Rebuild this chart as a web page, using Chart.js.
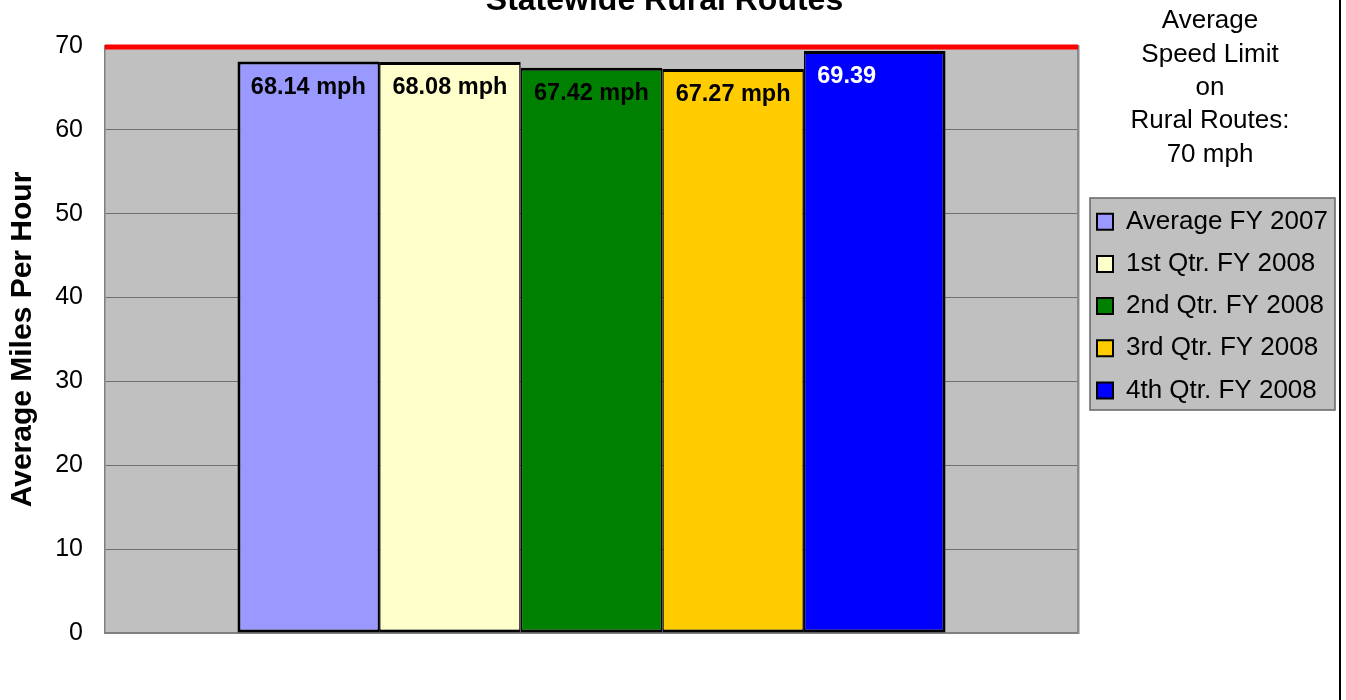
<!DOCTYPE html>
<html><head><meta charset="utf-8">
<script src="https://cdn.jsdelivr.net/npm/chart.js@4"></script>
<style>
html,body{margin:0;padding:0;background:#fff;overflow:hidden;width:1346px;height:700px;}
#wrap{position:absolute;left:0;top:-40px;width:1346px;height:740px;}
#frame{position:absolute;left:1339px;top:0;width:2px;height:700px;background:#000;}
</style></head><body>
<div id="wrap"><canvas id="c" width="1346" height="740"></canvas></div>
<div id="frame"></div>
<script>
// ---- data ----
const chartTitle = 'Statewide Rural Routes';
const categories = [''];
const seriesNames = ['Average FY 2007', '1st Qtr. FY 2008', '2nd Qtr. FY 2008', '3rd Qtr. FY 2008', '4th Qtr. FY 2008'];
const seriesValues = [68.14, 68.08, 67.42, 67.27, 69.39];
const valueSuffixes = [' mph', ' mph', ' mph', ' mph', ''];
const speedLimit = 70;
const yMin = 0, yMax = 70, yStep = 10;
const yAxisTitle = 'Average Miles Per Hour';
const noteLines = ['Average', 'Speed Limit', 'on', 'Rural Routes:', '70 mph'];

// ---- styles ----
const seriesColors = ['#9999FF', '#FFFFCC', '#008000', '#FFCC00', '#0000FF'];
const labelColors = ['#000', '#000', '#000', '#000', '#fff'];
const FONT = '"Liberation Sans", Arial, Helvetica, sans-serif';
const OFF = 40; // canvas is shifted up by this many px
Chart.defaults.font.family = FONT;
Chart.defaults.color = '#000';

const plotBg = {
  id: 'plotBg',
  afterLayout(chart) {
    const lg = chart.legend;
    const pad = lg.options.labels.padding;
    const w = lg.width;
    lg.left = 1097 - pad; lg.right = lg.left + w;
    lg.top = 221.7 + OFF - 13 - pad; lg.bottom = lg.top + 400;
  },
  beforeDraw(chart) {
    const {ctx, chartArea: a} = chart;
    ctx.save();
    ctx.fillStyle = '#c0c0c0';
    ctx.fillRect(a.left, a.top, a.right - a.left, a.bottom - a.top);
    // legend frame
    ctx.fillStyle = '#c0c0c0';
    ctx.fillRect(1090, 198 + OFF, 245, 212);
    ctx.strokeStyle = '#666';
    ctx.lineWidth = 1.5;
    ctx.strokeRect(1090, 198 + OFF, 245, 212);
    ctx.restore();
  }
};

const labelsPlugin = {
  id: 'valueLabels',
  afterDatasetsDraw(chart) {
    const ctx = chart.ctx;
    const a = chart.chartArea;
    ctx.save();
    // speed limit line
    const yL = chart.scales.y.getPixelForValue(speedLimit);
    ctx.strokeStyle = '#ff0000';
    ctx.lineWidth = 5;
    ctx.beginPath();
    ctx.moveTo(a.left, yL + 1);
    ctx.lineTo(a.right, yL + 1);
    ctx.stroke();
    // value labels
    ctx.font = 'bold 23.5px ' + FONT;
    ctx.textBaseline = 'alphabetic';
    ctx.textAlign = 'left';
    seriesValues.forEach((v, i) => {
      const bar = chart.getDatasetMeta(i).data[0];
      const full = v.toFixed(2) + ' mph';
      const w = ctx.measureText(full).width;
      ctx.fillStyle = labelColors[i];
      ctx.fillText(v.toFixed(2) + valueSuffixes[i], bar.x - w / 2, bar.y + 32);
    });
    ctx.restore();
  },
  afterDraw(chart) {
    const ctx = chart.ctx;
    ctx.save();
    ctx.font = '26px ' + FONT;
    ctx.fillStyle = '#000';
    ctx.textAlign = 'center';
    ctx.textBaseline = 'alphabetic';
    noteLines.forEach((t, i) => {
      ctx.fillText(t, 1210, 28.3 + OFF + i * 33.3);
    });
    ctx.restore();
  }
};

const last = seriesNames.length - 1;
const datasets = seriesNames.map((name, i) => ({
  label: name,
  data: [seriesValues[i]],
  backgroundColor: seriesColors[i],
  borderColor: '#000',
  borderWidth: {top: 3, bottom: 3, left: i === 0 ? 3 : 1.5, right: i === last ? 3 : 1.5},
  borderSkipped: false,
  barPercentage: 1.0,
  categoryPercentage: 0.7277
}));

new Chart(document.getElementById('c'), {
  type: 'bar',
  data: {labels: categories, datasets},
  options: {
    responsive: false,
    animation: false,
    events: [],
    layout: {padding: {left: 0, right: 17, top: 0, bottom: 67}},
    plugins: {
      title: {
        display: true, text: chartTitle, color: '#000',
        font: {size: 32, weight: 'bold'},
        padding: {top: 21.7, bottom: 25.9}
      },
      legend: {
        position: 'chartArea',
        align: 'start',
        labels: {
          boxWidth: 16, boxHeight: 16, padding: 16.2, color: '#000',
          font: {size: 26},
          generateLabels: (chart) => Chart.defaults.plugins.legend.labels.generateLabels(chart).map(l => Object.assign(l, {lineWidth: 2}))
        }
      },
      tooltip: {enabled: false}
    },
    scales: {
      x: {
        type: 'category',
        grid: {display: false},
        ticks: {display: false},
        border: {display: true, color: '#808080', width: 2},
        afterFit: (s) => { s.height = 0; }
      },
      y: {
        position: 'left',
        min: yMin, max: yMax,
        ticks: {stepSize: yStep, color: '#000', font: {size: 25}, padding: 22},
        grid: {color: '#707070', lineWidth: 1, drawTicks: false},
        border: {display: true, color: '#808080', width: 1.5},
        title: {
          display: true, text: yAxisTitle, color: '#000',
          font: {size: 30, weight: 'bold'},
          padding: {top: 5, bottom: 0}
        },
        afterFit: (s) => { s.width = 105; }
      },
      yR: {
        type: 'linear',
        position: 'right',
        grid: {display: false},
        ticks: {display: false},
        border: {display: true, color: '#8a8a8a', width: 2.5},
        afterFit: (s) => { s.width = 251; }
      }
    }
  },
  plugins: [plotBg, labelsPlugin]
});
</script>
</body></html>
